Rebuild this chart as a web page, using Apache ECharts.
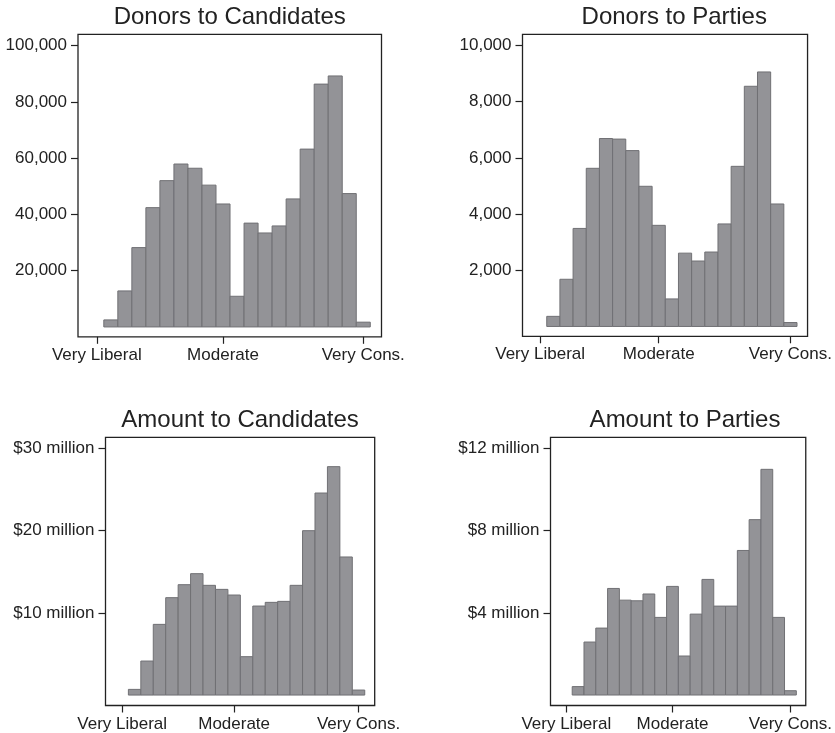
<!DOCTYPE html>
<html>
<head>
<meta charset="utf-8">
<script src="https://cdn.jsdelivr.net/npm/echarts@6/dist/echarts.min.js"></script>
<style>
html,body{margin:0;padding:0;background:#fff;}
#chart{width:835px;height:733px;}
</style>
</head>
<body>
<div id="chart"></div>
<script>
// ---- data ----
const binStarts = [0,1,2,3,4,5,6,7,8,9,10,11,12,13,14,15,16,17,18];
const xTickPos = [-0.5, 8.5, 18.5];
const xTickLabels = ['Very Liberal', 'Moderate', 'Very Cons.'];

const donorsCandidates = [2500, 12800, 28200, 42400, 52000, 57900, 56400, 50400, 43700, 10900, 36900, 33400, 35900, 45500, 63200, 86300, 89200, 47400, 1700];
const donorsParties = [360, 1680, 3490, 5630, 6690, 6670, 6260, 4990, 3600, 980, 2610, 2330, 2650, 3650, 5700, 8550, 9060, 4360, 140];
const amountCandidates = [0.69, 4.14, 8.60, 11.85, 13.43, 14.77, 13.35, 12.86, 12.17, 4.67, 10.83, 11.28, 11.40, 13.35, 20.0, 24.58, 27.79, 16.80, 0.61];
const amountParties = [0.41, 2.58, 3.26, 5.19, 4.62, 4.59, 4.92, 3.78, 5.29, 1.90, 3.94, 5.63, 4.33, 4.33, 7.04, 8.54, 10.99, 3.78, 0.21];

const titles = ['Donors to Candidates', 'Donors to Parties', 'Amount to Candidates', 'Amount to Parties'];
const yTicksDC = [20000, 40000, 60000, 80000, 100000];
const yTicksDP = [2000, 4000, 6000, 8000, 10000];
const yTicksAC = [10, 20, 30];
const yTicksAP = [4, 8, 12];

// ---- layout ----
const FONT = '"Liberation Sans", Arial, Helvetica, sans-serif';
const TXT = '#222';
const panels = [
  {title: titles[0], vals: donorsCandidates, yTicks: yTicksDC, ymin: -3500, ymax: 104000,
   grid: {left: 78, top: 34.3, width: 303.5, height: 302.5}, titleTop: 5,
   fmt: v => v.toLocaleString('en-US')},
  {title: titles[1], vals: donorsParties, yTicks: yTicksDP, ymin: -350, ymax: 10400,
   grid: {left: 522.5, top: 34.3, width: 303.5, height: 302}, titleTop: 5,
   fmt: v => v.toLocaleString('en-US')},
  {title: titles[2], vals: amountCandidates, yTicks: yTicksAC, ymin: -1.27, ymax: 31.36,
   grid: {left: 105.5, top: 437.3, width: 269.2, height: 268.2}, titleTop: 408,
   fmt: v => '$' + v + ' million'},
  {title: titles[3], vals: amountParties, yTicks: yTicksAP, ymin: -0.51, ymax: 12.55,
   grid: {left: 550.5, top: 437.3, width: 269, height: 268.2}, titleTop: 408,
   fmt: v => '$' + v + ' million'}
];
const XMIN = -1.84, XMAX = 19.8;

const option = {
  backgroundColor: '#fff',
  animation: false,
  title: [], grid: [], xAxis: [], yAxis: [], series: []
};

panels.forEach((p, i) => {
  option.title.push({
    text: p.title,
    left: p.grid.left + p.grid.width / 2,
    top: p.titleTop,
    textAlign: 'center',
    padding: 0,
    textStyle: {fontFamily: FONT, fontSize: 24, fontWeight: 'normal', color: TXT}
  });
  option.grid.push(Object.assign({show: true, borderColor: '#222', borderWidth: 1.3,
    backgroundColor: 'transparent', containLabel: false}, p.grid));
  option.xAxis.push({
    type: 'value', gridIndex: i, min: XMIN, max: XMAX,
    axisLine: {show: false, onZero: false},
    splitLine: {show: false},
    axisTick: {show: true, length: 7, customValues: xTickPos, lineStyle: {color: '#222', width: 1.2}},
    axisLabel: {show: true, customValues: xTickPos, margin: 10,
      formatter: v => xTickLabels[xTickPos.indexOf(v)] || '',
      fontFamily: FONT, fontSize: 17, color: TXT}
  });
  option.yAxis.push({
    type: 'value', gridIndex: i, min: p.ymin, max: p.ymax,
    axisLine: {show: false, onZero: false},
    splitLine: {show: false},
    axisTick: {show: true, length: 7, customValues: p.yTicks, lineStyle: {color: '#222', width: 1.2}},
    axisLabel: {show: true, customValues: p.yTicks, margin: 11,
      formatter: p.fmt, fontFamily: FONT, fontSize: 17, color: TXT}
  });
  option.series.push({
    type: 'custom', xAxisIndex: i, yAxisIndex: i,
    encode: {x: [0, 1], y: 2},
    data: binStarts.map((b, k) => [b, b + 1, p.vals[k]]),
    renderItem: function (params, api) {
      const p0 = api.coord([api.value(0), 0]);
      const p1 = api.coord([api.value(1), api.value(2)]);
      return {
        type: 'rect',
        shape: {x: p0[0], y: p1[1], width: p1[0] - p0[0], height: p0[1] - p1[1]},
        style: {fill: '#939397', stroke: '#707074', lineWidth: 1}
      };
    }
  });
});

const chart = echarts.init(document.getElementById('chart'), null, {renderer: 'canvas'});
chart.setOption(option);
</script>
</body>
</html>
